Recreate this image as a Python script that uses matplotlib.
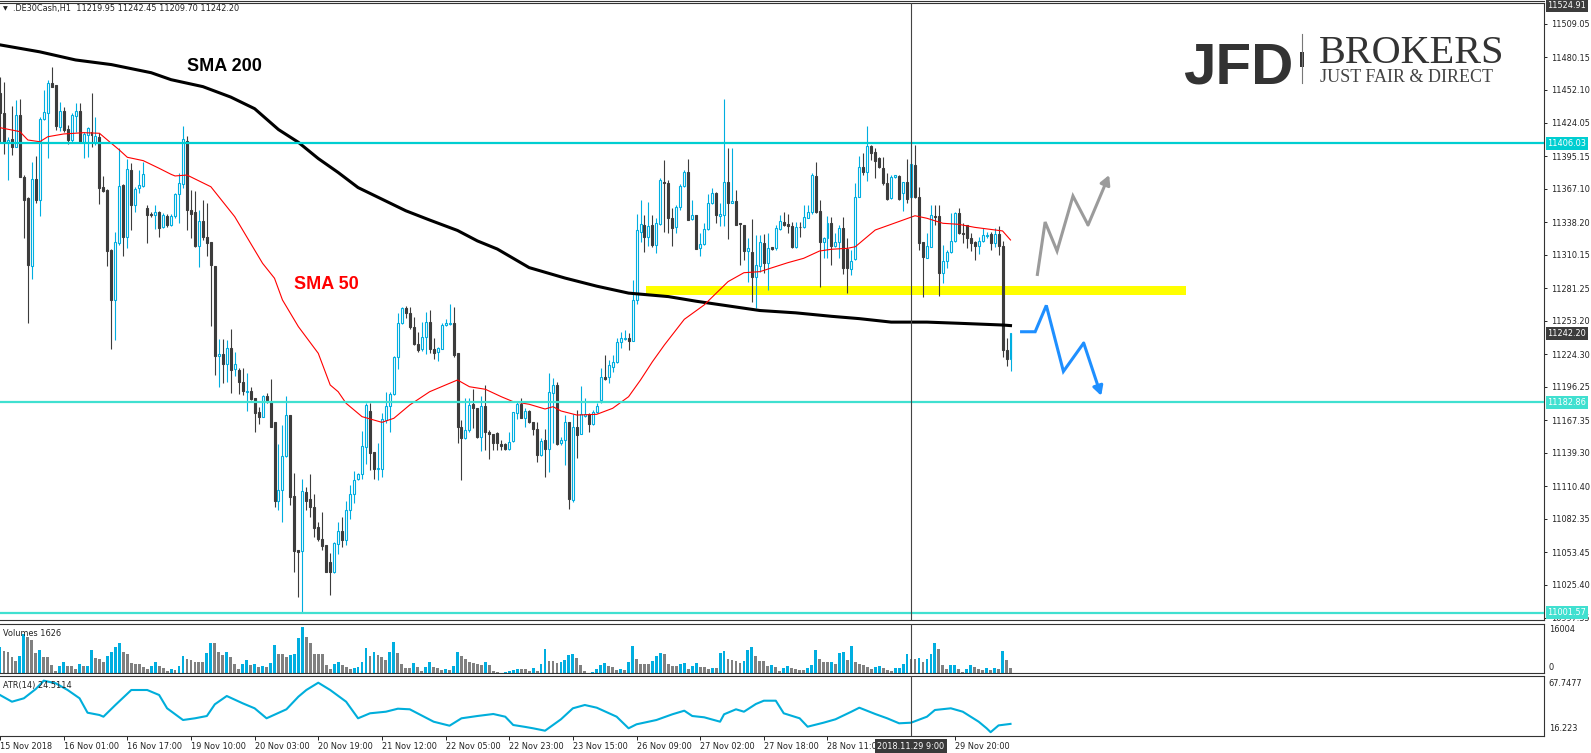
import matplotlib
matplotlib.use("Agg")
import matplotlib.pyplot as plt
import numpy as np
from matplotlib import font_manager
from matplotlib.lines import Line2D
from matplotlib.patches import Rectangle

# ---- .DE30Cash H1 candles, bar 0 = 15 Nov 2018 ----
OPEN = [
    11449.3, 11432.6, 11406.7, 11409.9, 11403.3, 11430.6, 11377.4, 11358.7, 11300.7, 11375.4,
    11357.3, 11427.1, 11432.0, 11457.9, 11456.4, 11420.5, 11434.0, 11418.5, 11409.0, 11430.0,
    11434.0, 11407.6, 11413.3, 11416.2, 11406.2, 11411.3, 11368.8, 11365.9, 11314.2, 11271.1,
    11320.5, 11370.2, 11325.7, 11383.2, 11353.0, 11367.4, 11369.7, 11350.1, 11344.9, 11344.4,
    11347.2, 11334.3, 11343.5, 11335.7, 11343.5, 11362.2, 11370.8, 11408.4, 11348.7, 11346.9,
    11317.6, 11339.2, 11325.7, 11320.8, 11300.7, 11223.1, 11224.2, 11215.6, 11229.4, 11211.6,
    11210.7, 11200.1, 11191.5, 11192.6, 11186.3, 11174.2, 11170.5, 11188.3, 11183.4, 11165.6,
    11098.0, 11107.2, 11136.5, 11171.9, 11102.1, 11055.5, 11054.9, 11105.8, 11099.2, 11092.3,
    11075.0, 11064.7, 11059.8, 11045.5, 11036.8, 11061.0, 11072.0, 11064.0, 11090.0, 11104.0,
    11116.4, 11121.0, 11144.0, 11175.4, 11139.7, 11125.1, 11125.1, 11167.6, 11179.7, 11189.7,
    11222.2, 11250.9, 11263.9, 11259.6, 11248.1, 11233.1, 11228.5, 11239.4, 11252.4, 11228.8,
    11226.5, 11228.8, 11249.5, 11250.1, 11250.9, 11225.1, 11161.3, 11151.8, 11159.0, 11181.4,
    11177.7, 11153.2, 11179.7, 11157.0, 11155.5, 11156.7, 11146.9, 11146.9, 11142.3, 11149.8,
    11173.9, 11181.4, 11169.6, 11175.4, 11165.6, 11159.6, 11137.4, 11150.4, 11142.3, 11190.6,
    11197.8, 11148.1, 11150.4, 11165.6, 11098.6, 11161.9, 11155.5, 11171.1, 11172.5, 11163.9,
    11174.8, 11184.9, 11205.0, 11205.0, 11213.6, 11217.3, 11234.6, 11237.4, 11238.0, 11236.0,
    11271.1, 11330.0, 11335.7, 11325.1, 11335.7, 11318.5, 11336.6, 11372.5, 11372.2, 11342.0,
    11333.7, 11351.5, 11369.3, 11381.7, 11340.6, 11344.3, 11315.6, 11319.3, 11332.0, 11354.4,
    11363.6, 11343.8, 11344.3, 11372.5, 11355.0, 11356.4, 11337.1, 11335.7, 11313.6, 11312.7,
    11290.6, 11300.4, 11319.9, 11303.2, 11316.4, 11315.6, 11332.0, 11338.0, 11336.3, 11334.8,
    11316.4, 11334.3, 11333.7, 11342.0, 11347.2, 11378.0, 11347.8, 11321.3, 11324.2, 11337.8,
    11317.6, 11320.8, 11332.9, 11314.8, 11297.5, 11306.1, 11360.2, 11385.5, 11381.7, 11403.9,
    11399.0, 11393.2, 11385.2, 11372.2, 11358.7, 11376.8, 11378.3, 11363.1, 11372.5, 11359.6,
    11387.5, 11359.6, 11321.1, 11307.6, 11317.1, 11343.5, 11343.5, 11294.6, 11304.7, 11312.8,
    11321.9, 11345.8, 11329.1, 11335.8, 11324.3, 11321.4, 11317.9, 11322.2, 11326.6, 11328.0,
    11320.5, 11328.0, 11318.0, 11228.0, 11219.95,
]
HIGH = [
    11463.6, 11459.3, 11411.9, 11438.3, 11443.5, 11444.4, 11378.8, 11360.2, 11390.3, 11395.2,
    11429.1, 11452.1, 11460.8, 11472.3, 11456.4, 11442.1, 11437.8, 11422.0, 11432.6, 11440.6,
    11440.6, 11416.2, 11420.5, 11449.3, 11428.6, 11414.8, 11378.0, 11366.5, 11314.8, 11330.0,
    11401.8, 11371.1, 11392.4, 11388.9, 11368.8, 11383.2, 11389.8, 11353.0, 11347.2, 11353.0,
    11348.1, 11345.8, 11345.2, 11344.9, 11363.6, 11380.3, 11421.1, 11412.5, 11365.9, 11365.3,
    11348.7, 11357.3, 11355.0, 11320.8, 11300.7, 11237.4, 11237.1, 11236.6, 11245.8, 11226.0,
    11212.2, 11212.2, 11207.8, 11196.3, 11186.8, 11179.1, 11189.2, 11190.6, 11202.7, 11166.2,
    11146.9, 11163.3, 11188.3, 11171.9, 11121.6, 11055.5, 11116.4, 11110.1, 11121.0, 11103.8,
    11079.9, 11088.5, 11059.8, 11052.6, 11062.7, 11080.0, 11084.0, 11098.0, 11112.0, 11124.0,
    11122.2, 11158.1, 11182.0, 11182.0, 11139.7, 11147.5, 11173.3, 11192.0, 11192.0, 11222.8,
    11259.6, 11265.3, 11265.9, 11265.3, 11256.1, 11243.8, 11252.4, 11261.0, 11262.4, 11238.0,
    11230.8, 11250.9, 11254.4, 11267.3, 11265.3, 11225.1, 11167.6, 11186.3, 11186.3, 11194.0,
    11177.7, 11188.3, 11197.8, 11159.0, 11155.5, 11157.5, 11150.4, 11147.5, 11157.5, 11174.8,
    11183.4, 11186.3, 11177.7, 11176.2, 11166.2, 11166.2, 11151.8, 11159.6, 11207.8, 11203.5,
    11200.6, 11153.2, 11171.9, 11166.2, 11172.5, 11176.2, 11196.9, 11186.3, 11173.4, 11176.2,
    11182.0, 11212.2, 11223.7, 11219.3, 11223.7, 11238.0, 11243.8, 11245.2, 11242.3, 11288.3,
    11345.2, 11357.3, 11344.4, 11355.9, 11344.4, 11341.5, 11376.0, 11391.8, 11374.5, 11350.1,
    11353.0, 11371.1, 11383.1, 11392.6, 11357.3, 11344.3, 11328.5, 11337.2, 11362.4, 11367.9,
    11364.4, 11354.4, 11444.3, 11401.8, 11401.8, 11365.9, 11337.7, 11335.7, 11324.2, 11340.6,
    11327.1, 11327.1, 11327.7, 11328.5, 11317.0, 11335.7, 11344.3, 11347.2, 11345.2, 11338.6,
    11338.6, 11338.6, 11353.0, 11353.0, 11380.3, 11390.3, 11357.3, 11325.7, 11343.5, 11342.9,
    11328.6, 11335.8, 11342.9, 11324.3, 11314.2, 11371.7, 11395.2, 11397.5, 11421.4, 11404.7,
    11401.9, 11394.7, 11394.7, 11380.3, 11378.9, 11378.9, 11378.9, 11373.1, 11392.7, 11404.7,
    11405.0, 11368.2, 11321.4, 11328.6, 11353.0, 11353.0, 11353.0, 11318.5, 11314.2, 11346.4,
    11347.2, 11350.7, 11337.2, 11335.8, 11329.1, 11322.0, 11325.7, 11332.9, 11330.0, 11330.0,
    11332.9, 11335.0, 11322.0, 11238.0, 11242.45,
]
LOW = [
    11406.2, 11396.7, 11374.5, 11396.1, 11402.7, 11376.8, 11324.2, 11251.5, 11289.2, 11354.4,
    11343.8, 11426.3, 11393.2, 11454.4, 11417.6, 11417.1, 11416.2, 11405.3, 11407.6, 11416.2,
    11406.7, 11393.8, 11394.7, 11402.7, 11404.7, 11353.8, 11364.5, 11300.7, 11228.5, 11236.6,
    11318.5, 11309.0, 11315.6, 11331.4, 11347.2, 11363.0, 11368.8, 11320.5, 11342.9, 11332.0,
    11325.7, 11332.9, 11334.3, 11334.9, 11342.0, 11337.7, 11367.3, 11331.4, 11324.2, 11317.0,
    11299.8, 11322.8, 11309.0, 11248.9, 11206.4, 11196.3, 11199.8, 11200.6, 11191.2, 11205.8,
    11189.7, 11188.9, 11175.6, 11184.8, 11157.5, 11163.9, 11169.9, 11182.0, 11161.3, 11092.9,
    11090.0, 11079.4, 11136.0, 11094.3, 11036.8, 11014.7, 11001.6, 11090.0, 11084.2, 11067.0,
    11063.5, 11055.5, 11036.2, 11016.7, 11035.4, 11052.0, 11058.0, 11060.0, 11082.0, 11096.0,
    11115.9, 11116.4, 11130.0, 11124.5, 11116.4, 11115.9, 11118.7, 11164.7, 11157.5, 11189.2,
    11211.3, 11250.4, 11255.3, 11245.8, 11232.3, 11226.5, 11227.4, 11224.5, 11225.1, 11219.9,
    11218.7, 11228.5, 11248.6, 11249.5, 11222.2, 11147.5, 11116.0, 11150.9, 11157.5, 11160.4,
    11151.8, 11141.2, 11141.7, 11134.0, 11141.7, 11141.7, 11141.7, 11141.7, 11141.7, 11148.9,
    11168.2, 11169.0, 11161.8, 11164.7, 11154.7, 11131.7, 11136.9, 11118.2, 11123.1, 11147.5,
    11146.1, 11146.1, 11128.8, 11090.6, 11097.2, 11134.6, 11155.5, 11170.5, 11157.5, 11163.3,
    11173.4, 11182.0, 11202.1, 11199.2, 11209.3, 11216.5, 11229.4, 11236.6, 11228.0, 11236.0,
    11267.6, 11321.4, 11312.7, 11317.6, 11317.1, 11311.3, 11335.7, 11330.0, 11329.1, 11317.9,
    11328.5, 11348.6, 11368.8, 11340.0, 11340.0, 11315.3, 11309.3, 11318.5, 11331.4, 11353.8,
    11337.1, 11334.8, 11334.8, 11323.3, 11354.4, 11335.7, 11301.2, 11305.5, 11286.9, 11269.6,
    11263.9, 11295.5, 11294.6, 11279.7, 11314.2, 11314.2, 11331.4, 11334.8, 11328.5, 11315.6,
    11315.9, 11325.7, 11332.8, 11341.5, 11345.2, 11346.3, 11282.0, 11306.9, 11306.9, 11301.3,
    11317.1, 11307.0, 11293.2, 11276.8, 11292.6, 11305.6, 11359.6, 11378.9, 11374.0, 11391.8,
    11376.0, 11384.6, 11370.2, 11357.3, 11357.9, 11376.0, 11357.3, 11348.1, 11354.4, 11358.7,
    11358.7, 11314.2, 11274.0, 11307.0, 11316.5, 11335.8, 11274.5, 11285.5, 11298.4, 11311.9,
    11321.4, 11328.0, 11320.5, 11315.6, 11313.6, 11305.6, 11310.7, 11321.4, 11324.3, 11314.2,
    11316.5, 11310.0, 11222.0, 11214.0, 11209.70,
]
CLOSE = [
    11432.0, 11407.6, 11409.0, 11402.7, 11430.6, 11377.4, 11357.3, 11301.3, 11375.4, 11357.3,
    11427.1, 11432.9, 11457.9, 11455.0, 11421.4, 11434.0, 11417.6, 11409.0, 11430.6, 11434.0,
    11407.6, 11414.2, 11419.1, 11413.3, 11412.5, 11367.9, 11365.3, 11313.6, 11271.1, 11321.4,
    11369.4, 11325.7, 11383.7, 11353.0, 11366.5, 11370.2, 11379.4, 11344.4, 11344.6, 11347.2,
    11333.4, 11344.4, 11335.7, 11343.8, 11362.4, 11371.6, 11409.6, 11348.7, 11345.2, 11317.6,
    11339.2, 11325.7, 11320.5, 11301.2, 11223.1, 11224.2, 11215.6, 11229.4, 11210.7, 11215.6,
    11200.6, 11192.6, 11192.6, 11185.7, 11173.9, 11170.5, 11188.3, 11184.8, 11161.8, 11098.0,
    11107.2, 11136.5, 11171.9, 11101.5, 11054.9, 11054.1, 11106.4, 11098.0, 11092.3, 11074.2,
    11064.7, 11058.9, 11036.8, 11036.8, 11061.2, 11072.0, 11064.0, 11090.0, 11104.0, 11116.0,
    11121.0, 11145.2, 11180.5, 11139.4, 11125.1, 11125.9, 11168.2, 11179.7, 11189.7, 11222.2,
    11250.9, 11263.9, 11259.6, 11248.1, 11233.1, 11228.0, 11239.4, 11252.4, 11228.5, 11225.6,
    11229.4, 11249.5, 11250.9, 11250.9, 11223.6, 11161.3, 11151.8, 11159.0, 11180.5, 11177.7,
    11153.2, 11179.7, 11157.0, 11155.5, 11147.5, 11147.5, 11145.2, 11142.3, 11148.9, 11174.2,
    11181.4, 11169.6, 11175.4, 11165.6, 11159.6, 11137.4, 11149.5, 11142.6, 11191.5, 11197.8,
    11146.9, 11150.4, 11165.6, 11099.5, 11161.9, 11154.7, 11172.5, 11172.5, 11163.9, 11174.8,
    11180.0, 11205.0, 11203.0, 11215.0, 11217.3, 11234.6, 11238.0, 11238.6, 11236.0, 11271.1,
    11331.4, 11336.6, 11325.1, 11334.9, 11318.5, 11337.2, 11374.5, 11371.7, 11341.5, 11333.4,
    11351.5, 11369.3, 11381.7, 11340.0, 11344.3, 11315.3, 11319.3, 11332.0, 11354.4, 11363.6,
    11344.3, 11345.2, 11372.5, 11355.0, 11356.4, 11335.7, 11336.3, 11313.6, 11315.6, 11290.6,
    11301.2, 11320.8, 11302.6, 11315.6, 11315.0, 11332.8, 11339.2, 11335.7, 11335.1, 11316.4,
    11334.3, 11333.7, 11342.3, 11347.2, 11378.8, 11347.2, 11321.3, 11324.2, 11337.1, 11317.6,
    11320.8, 11332.9, 11299.0, 11299.0, 11305.0, 11359.6, 11385.5, 11381.7, 11403.9, 11398.1,
    11391.2, 11385.5, 11372.2, 11357.9, 11376.8, 11378.6, 11358.2, 11372.5, 11357.9, 11388.3,
    11360.2, 11319.9, 11308.4, 11317.6, 11344.4, 11342.9, 11294.6, 11304.7, 11312.8, 11321.9,
    11345.8, 11328.6, 11328.0, 11324.3, 11320.5, 11317.9, 11322.0, 11327.1, 11327.1, 11319.9,
    11328.0, 11318.0, 11228.0, 11220.0, 11242.20,
]
VOLUME = [
    9048, 7540, 7192, 5452, 4176, 5800, 13456, 12528, 11368, 7076,
    7888, 5452, 5452, 2668, 812, 2320, 3712, 2320, 2320, 1276,
    3016, 2320, 2500, 7888, 5336, 4988, 3712, 5800, 7192, 8932,
    10324, 7192, 6612, 3364, 3016, 3016, 1972, 1276, 2320, 3712,
    2320, 1624, 580, 1276, 928, 2320, 5800, 4756, 4408, 3712,
    3712, 3712, 6960, 10324, 10324, 7192, 6380, 7192, 5452, 3016,
    1276, 3016, 4408, 2668, 3016, 1972, 2320, 1972, 3480, 9628,
    6728, 6728, 5452, 6148, 6728, 12064, 16004, 12528, 10324, 6496,
    6496, 6496, 2668, 1276, 3016, 3712, 2668, 2088, 1276, 1624,
    1972, 3712, 8584, 5800, 7192, 6148, 5452, 4408, 7192, 10672,
    6844, 3016, 1624, 1624, 3364, 1972, 580, 1972, 3712, 1972,
    1624, 928, 1276, 928, 2320, 7192, 5800, 4756, 3712, 3364,
    3016, 2668, 3712, 2668, 580, 232, 100, 300, 696, 1044,
    1276, 1276, 1276, 696, 1624, 812, 3016, 8236, 4060, 4060,
    3480, 3828, 4640, 6148, 6496, 5104, 2668, 580, 50, 348,
    1276, 2668, 3364, 2320, 1972, 928, 1276, 928, 3712, 9396,
    4756, 3248, 3016, 3016, 4060, 5800, 6844, 6612, 3016, 2320,
    2320, 3016, 3364, 1276, 2320, 3364, 1972, 1972, 1276, 1624,
    1624, 6844, 7540, 4756, 4408, 4060, 3364, 4060, 7888, 8932,
    5800, 4060, 4060, 2320, 2668, 2088, 580, 1624, 2320, 1624,
    1276, 928, 928, 1624, 2668, 7888, 4756, 3712, 3712, 3800,
    3016, 6844, 7192, 4408, 9280, 3712, 3016, 2668, 1972, 1276,
    1972, 2320, 1624, 928, 580, 1624, 1700, 3016, 6612, 4872,
    4872, 5220, 3712, 4756, 6612, 10324, 8236, 2668, 1276, 2668,
    2700, 1276, 232, 1276, 2668, 1972, 1276, 928, 1624, 928,
    1624, 1276, 7540, 4408, 1626,
]

SMA200_BARS = [0, 10, 19, 28, 38, 43, 51, 58, 64, 70, 75, 80, 85, 90, 96, 102, 108, 115,
               120, 125, 133, 142, 150, 158, 168, 175, 183, 191, 200, 209, 216, 224, 233,
               241, 252, 254]
SMA200 = [11491, 11485, 11478, 11474, 11467, 11461, 11455, 11446, 11436, 11418, 11407,
          11393, 11381, 11368, 11358, 11348, 11340, 11331, 11322, 11315, 11299, 11290,
          11283, 11277, 11274, 11270, 11266, 11262, 11260, 11257, 11255, 11252, 11252,
          11251, 11249.5, 11249]

SMA50_BARS = [0, 3, 5, 7, 10, 12, 16, 21, 25, 27, 30, 32, 36, 40, 43, 44, 47, 53, 54, 59,
              63, 66, 69, 71, 75, 80, 83, 85, 87, 91, 96, 99, 103, 108, 112, 115, 118, 122,
              126, 129, 133, 137, 139, 141, 145, 150, 154, 158, 161, 164, 167, 172, 177,
              183, 187, 191, 198, 202, 206, 209, 213, 215, 220, 224, 230, 233, 237, 241,
              245, 252, 254]
SMA50 = [11419.6, 11417.6, 11416.2, 11409.0, 11407.5, 11411.8, 11414.2, 11415.3, 11414.8,
         11409.0, 11400.4, 11394.1, 11391.2, 11384.6, 11379.4, 11378.0, 11378.8, 11368.7,
         11364.4, 11342.9, 11319.9, 11302.7, 11289.8, 11271.1, 11248.1, 11225.1, 11197.8,
         11192.0, 11182.0, 11170.5, 11165.6, 11169.1, 11180.6, 11192.0, 11197.8, 11202.1,
         11196.3, 11194.1, 11187.7, 11183.4, 11181.2, 11177.1, 11179.1, 11175.4, 11171.9,
         11172.5, 11177.7, 11187.7, 11202.1, 11217.9, 11232.3, 11254.4, 11266.8, 11286.9,
         11294.6, 11295.5, 11303.2, 11307.0, 11313.3, 11314.8, 11315.6, 11317.0, 11331.4,
         11336.3, 11343.7, 11341.5, 11337.2, 11336.3, 11333.7, 11330.6, 11322.8]

ATR_BARS = [0, 3, 6, 9, 11, 14, 17, 20, 22, 25, 26, 29, 33, 37, 40, 42, 46, 49, 52, 54, 57,
            61, 64, 67, 72, 75, 77, 80, 83, 87, 90, 93, 97, 100, 103, 109, 113, 116, 120,
            124, 127, 129, 132, 134, 137, 139, 141, 144, 147, 150, 155, 158, 160, 165, 169,
            172, 174, 177, 181, 182, 185, 187, 190, 192, 195, 197, 201, 203, 207, 210, 214,
            216, 220, 223, 226, 229, 233, 235, 239, 242, 246, 248, 249, 251, 253, 254]
ATR = [53.4, 46.7, 50.1, 59.4, 67.75, 65.1, 58.4, 50.1, 35.7, 33.4, 31.7, 43.4, 58.4, 58.4,
       53.4, 40.1, 28.4, 30.1, 32.4, 44.1, 52.4, 45.1, 40.1, 30.1, 39.1, 51.7, 58.4, 65.7,
       58.4, 46.7, 30.1, 35.1, 36.7, 39.7, 39.1, 26.7, 22.7, 30.1, 32.4, 34.4, 31.7, 23.4,
       21.5, 20.1, 17.7, 23.4, 29.1, 40.1, 43.4, 40.7, 31.7, 20.1, 24.1, 28.4, 34.1, 37.7,
       32.4, 31.1, 26.7, 34.1, 39.1, 36.7, 44.4, 47.7, 47.7, 35.1, 30.1, 21.7, 25.7, 29.1,
       36.7, 40.7, 34.4, 30.1, 25.1, 25.7, 31.7, 38.4, 40.1, 36.7, 26.7, 20.1, 16.22, 23.0,
       24.0, 24.51]

LEVELS = [11406.03, 11182.86, 11001.57]
ZONE_BARS = [162.5, 298.1]
ZONE_PRICES = [11275.6, 11283.1]

# hand-drawn scenario arrows (bar, price)
GRAY_PATH_BARS = [260.7, 262.7, 265.7, 269.7, 273.5, 278.8]
GRAY_PATH_PRICES = [11291.8, 11338.3, 11313.3, 11360.7, 11335.7, 11378.8]
BLUE_PATH_BARS = [256.4, 260.2, 263.0, 267.3, 272.4, 276.8]
BLUE_PATH_PRICES = [11243.7, 11243.7, 11266.4, 11209.5, 11234.0, 11188.5]

PRICE_TICKS = [11509.05, 11480.15, 11452.10, 11424.05, 11395.15, 11367.10, 11338.20,
               11310.15, 11281.25, 11253.20, 11224.30, 11196.25, 11167.35, 11139.30,
               11110.40, 11082.35, 11053.45, 11025.40, 10997.35]
DATE_TICKS = [0, 16, 32, 48, 64, 80, 96, 112, 128, 144, 160, 176, 192, 208, 240]
DATE_LABELS = ["15 Nov 2018", "16 Nov 01:00", "16 Nov 17:00", "19 Nov 10:00",
               "20 Nov 03:00", "20 Nov 19:00", "21 Nov 12:00", "22 Nov 05:00",
               "22 Nov 23:00", "23 Nov 15:00", "26 Nov 09:00", "27 Nov 02:00",
               "27 Nov 18:00", "28 Nov 11:00", "29 Nov 20:00"]
CROSS_BAR = 229

W, H = 1591, 753
CYAN = "#00AEE0"
DARK = "#3C3C3C"
GRAY = "#808080"
FRAME = "#333333"
TXT = "#222222"
FS = 5.9


def has_font(name):
    return any(f.name == name for f in font_manager.fontManager.ttflist)


def fig_rect(left, top, right, bottom):
    return [left / W, 1 - bottom / H, (right - left) / W, (bottom - top) / H]


def style_panel(ax):
    ax.set_facecolor("white")
    for side in ("top", "bottom", "right"):
        ax.spines[side].set_color(FRAME)
        ax.spines[side].set_linewidth(0.8)
    ax.spines["left"].set_visible(False)
    ax.set_xlim(0, 388.1)
    ax.tick_params(axis="x", bottom=False, labelbottom=False)


def side_label(ax, frac, text):
    ax.annotate(text, xy=(1.0, frac), xycoords="axes fraction", xytext=(3.5, 0),
                textcoords="offset points", ha="left", va="center", fontsize=FS,
                color=TXT, annotation_clip=False)


def price_tag(ax, value, text, face):
    ax.annotate(text, xy=(1.0, value), xycoords=("axes fraction", "data"), xytext=(2.5, 0),
                textcoords="offset points", ha="left", va="center", fontsize=FS,
                color="white", annotation_clip=False, zorder=30,
                bbox=dict(boxstyle="square,pad=0.22", fc=face, ec="none"))


def draw_path(ax, xs, ys, color):
    ax.plot(xs[:-1], ys[:-1], color=color, lw=2.2, solid_joinstyle="miter",
            solid_capstyle="butt", zorder=8)
    ax.annotate("", xy=(xs[-1], ys[-1]), xytext=(xs[-2], ys[-2]),
                arrowprops=dict(arrowstyle="-|>,head_length=0.55,head_width=0.3",
                                color=color, lw=2.2, shrinkA=0, shrinkB=0), zorder=8)


def main():
    plt.rcParams["font.family"] = ["DejaVu Sans"]
    fig = plt.figure(figsize=(W / 100, H / 100), dpi=100)
    fig.patch.set_facecolor("white")

    ax = fig.add_axes(fig_rect(0, 3, 1544, 620))
    ax_vol = fig.add_axes(fig_rect(0, 623.5, 1544, 673))
    ax_atr = fig.add_axes(fig_rect(0, 676, 1544, 736))
    for a in (ax, ax_vol, ax_atr):
        style_panel(a)

    x = np.arange(len(CLOSE))
    o, h, l, c = (np.array(v, dtype=float) for v in (OPEN, HIGH, LOW, CLOSE))
    up = c >= o

    # main price panel
    ax.set_ylim(10995.2, 11527.1)
    ax.add_patch(Rectangle((ZONE_BARS[0], ZONE_PRICES[0]), ZONE_BARS[1] - ZONE_BARS[0],
                           ZONE_PRICES[1] - ZONE_PRICES[0], color="#FFFF00", lw=0, zorder=1))
    ax.vlines(x[up], l[up], h[up], color=CYAN, lw=0.8, zorder=3)
    ax.vlines(x[~up], l[~up], h[~up], color=DARK, lw=0.8, zorder=3)
    body = np.maximum(np.abs(c - o), 0.5)
    ax.bar(x[up], body[up], bottom=o[up], width=0.5, facecolor="white",
           edgecolor=CYAN, lw=0.8, zorder=4)
    ax.bar(x[~up], body[~up], bottom=c[~up], width=0.5, facecolor=DARK,
           edgecolor=DARK, lw=0.8, zorder=4)

    ax.plot(SMA200_BARS, SMA200, color="black", lw=2.2, zorder=5)
    ax.plot(SMA50_BARS, SMA50, color="#FF0000", lw=0.8, zorder=5)
    ax.axhline(LEVELS[0], color="#00CED1", lw=1.6, zorder=6)
    ax.axhline(LEVELS[1], color="#40E0D0", lw=1.6, zorder=6)
    ax.axhline(LEVELS[2], color="#40E0D0", lw=1.6, zorder=6)

    draw_path(ax, GRAY_PATH_BARS, GRAY_PATH_PRICES, "#9B9B9B")
    draw_path(ax, BLUE_PATH_BARS, BLUE_PATH_PRICES, "#1E8FFF")

    lab = "Liberation Sans" if has_font("Liberation Sans") else "DejaVu Sans"
    ax.text(47, 11472, "SMA 200", fontsize=13, weight="bold", family=lab,
            color="black", ha="left", va="center", zorder=9)
    ax.text(74, 11284, "SMA 50", fontsize=13, weight="bold", family=lab,
            color="#FF0000", ha="left", va="center", zorder=9)

    ax.yaxis.tick_right()
    ax.set_yticks(PRICE_TICKS)
    ax.set_yticklabels([f"{v:.2f}" for v in PRICE_TICKS])
    ax.tick_params(axis="y", direction="out", length=2.5, width=0.7, pad=2.5,
                   labelsize=FS, colors=TXT)
    price_tag(ax, 11524.91, "11524.91", DARK)
    price_tag(ax, LEVELS[0], "11406.03", "#00CED1")
    price_tag(ax, CLOSE[-1], f"{CLOSE[-1]:.2f}", DARK)
    price_tag(ax, LEVELS[1], "11182.86", "#40E0D0")
    price_tag(ax, LEVELS[2], "11001.57", "#40E0D0")

    # volumes panel
    vol = np.array(VOLUME, dtype=float)
    vcol = [CYAN if i == 0 or vol[i] > vol[i - 1] else GRAY for i in range(len(vol))]
    ax_vol.bar(x, vol, width=0.72, color=vcol, lw=0)
    ax_vol.set_ylim(0, 17226)
    ax_vol.set_yticks([])
    side_label(ax_vol, 0.87, f"{int(max(VOLUME))}")
    side_label(ax_vol, 0.12, "0")
    ax_vol.text(0.002, 0.80, f"Volumes {VOLUME[-1]}", transform=ax_vol.transAxes,
                fontsize=FS, color=TXT, ha="left", va="center")

    # ATR panel
    ax_atr.plot(ATR_BARS, ATR, color="#00AEDB", lw=1.5)
    ax_atr.set_ylim(12.4, 72.4)
    ax_atr.set_yticks([])
    side_label(ax_atr, 0.88, "67.7477")
    side_label(ax_atr, 0.13, "16.223")
    ax_atr.text(0.002, 0.84, "ATR(14) 24.5114", transform=ax_atr.transAxes,
                fontsize=FS, color=TXT, ha="left", va="center")
    ax_atr.set_xticks(DATE_TICKS)
    ax_atr.set_xticklabels(DATE_LABELS, ha="left")
    ax_atr.tick_params(axis="x", bottom=True, labelbottom=True, direction="out",
                       length=3, width=0.7, pad=1.5, labelsize=FS, colors=TXT)

    # crosshair
    for a in (ax, ax_vol, ax_atr):
        a.axvline(CROSS_BAR, color="#444444", lw=0.8, zorder=7)
    ax_atr.annotate("2018.11.29 9:00", xy=(CROSS_BAR, 0), xycoords=("data", "axes fraction"),
                    xytext=(0, -7.5), textcoords="offset points", ha="center", va="center",
                    fontsize=FS, color="white", annotation_clip=False, zorder=30,
                    bbox=dict(boxstyle="square,pad=0.3", fc="#3A3A3A", ec="none"))

    # header and top double line
    fig.add_artist(Line2D([0, 1544 / W], [1 - 0.8 / H] * 2, color=FRAME, lw=0.8))
    fig.text(3 / W, 1 - 9 / H, "\u25bc", fontsize=4.5, color=TXT, va="center")
    fig.text(13 / W, 1 - 8.5 / H, ".DE30Cash,H1  11219.95 11242.45 11209.70 11242.20",
             fontsize=FS, color=TXT, va="center", ha="left")

    # logo
    narrow = "Liberation Sans Narrow" if has_font("Liberation Sans Narrow") else None
    if narrow:
        fig.text(1183 / W, 1 - 83 / H, "JFD", fontsize=50, weight="bold", family=narrow,
                 color="#333333", ha="left", va="baseline")
    else:
        fig.text(1183 / W, 1 - 83 / H, "JFD", fontsize=42, weight="bold", family=lab,
                 color="#333333", ha="left", va="baseline")
    serif = "Liberation Serif" if has_font("Liberation Serif") else "DejaVu Serif"
    fig.text(1319 / W, 1 - 63 / H, "BROKERS", fontsize=29, family=serif,
             color="#333333", ha="left", va="baseline")
    fig.text(1320 / W, 1 - 82 / H, "JUST FAIR & DIRECT", fontsize=13, family=serif,
             color="#444444", ha="left", va="baseline")
    fig.add_artist(Line2D([1302 / W] * 2, [1 - 34 / H, 1 - 83 / H], color="#777777", lw=0.8))
    fig.add_artist(Rectangle((1300 / W, 1 - 67 / H), 4 / W, 15 / H,
                             transform=fig.transFigure, color="#333333", lw=0))

    fig.savefig("out.png", dpi=100, facecolor="white")
    plt.close(fig)


if __name__ == "__main__":
    main()
